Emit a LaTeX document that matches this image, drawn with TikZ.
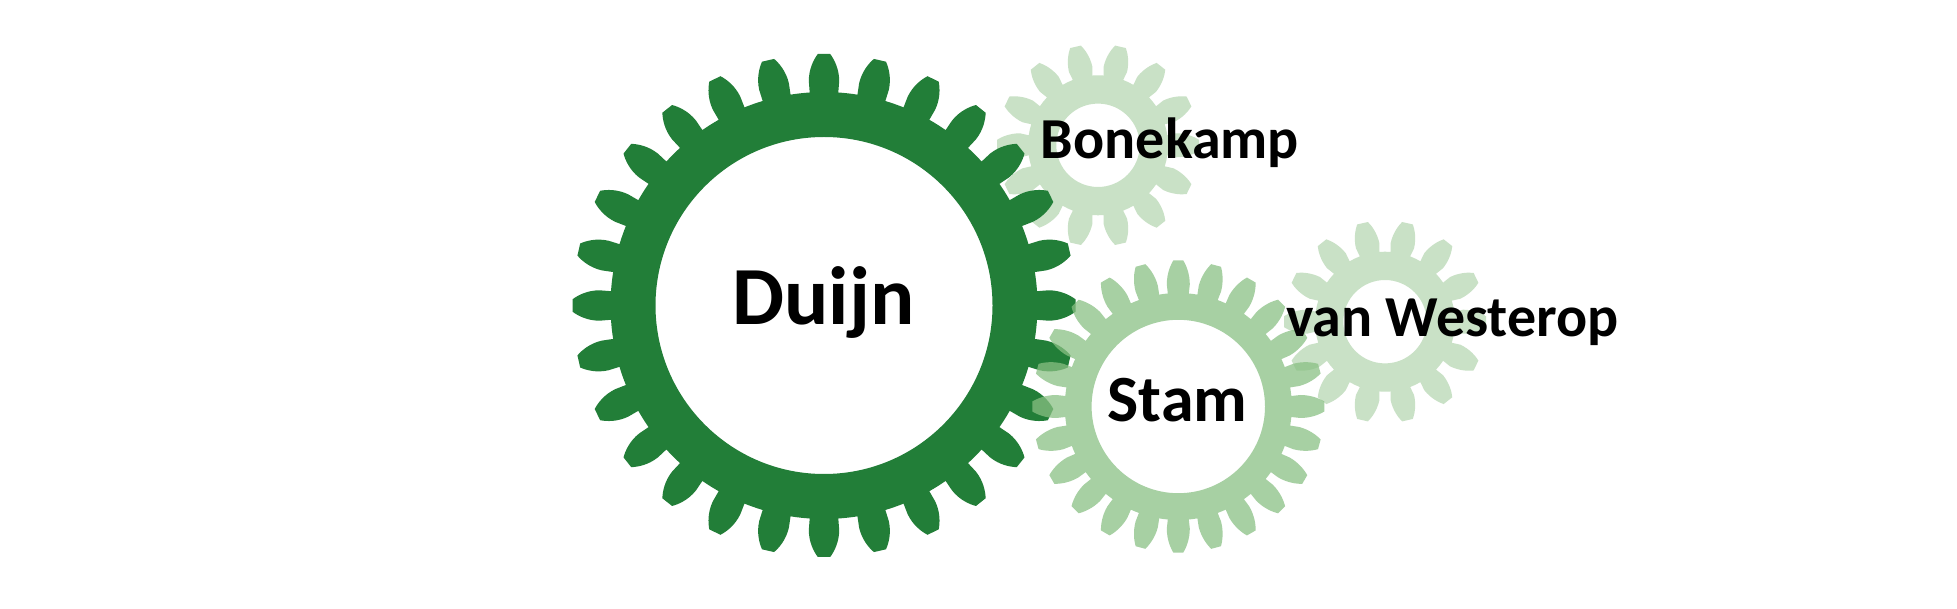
\documentclass[tikz,border=0pt]{standalone}
\usepackage{fontspec}
\setmainfont{Carlito}
\definecolor{dgreen}{RGB}{34,126,56}
\definecolor{lgreen}{RGB}{201,225,198}
\definecolor{mgreen}{RGB}{137,192,131}
% N r0 w0 r1 w1 r2 t rh
\newcommand\gearset[8]{%
  \pgfmathsetmacro\gStep{360/#1}%
  \pgfmathtruncatemacro\gLast{#1-1}%
  \pgfmathsetmacro\gB{asin(#3/#2)}%
  \pgfmathsetmacro\gX{#2*cos(\gB)}%
  \def\gR{#2}\def\gW{#3}\def\gRa{#4}\def\gWa{#5}\def\gRb{#6}\def\gT{#7}\def\gH{#8}%
  \pgfmathsetmacro\gCa{#4+0.45*(#6-#4)}%
  \pgfmathsetmacro\gCb{#6-0.2*(#6-#4)}%
  \pgfmathsetmacro\gCu{#7+0.45*(#5-#7)}%
}
\newcommand\gearpath{([rotate=0]\gX,-\gW)
  \foreach \i in {0,...,\gLast}{
    -- ([rotate={\i*\gStep}]\gRa,-\gWa)
    .. controls ([rotate={\i*\gStep}]\gCa,-\gWa) and ([rotate={\i*\gStep}]\gCb,-\gCu) .. ([rotate={\i*\gStep}]\gRb,-\gT)
    -- ([rotate={\i*\gStep}]\gRb,\gT)
    .. controls ([rotate={\i*\gStep}]\gCb,\gCu) and ([rotate={\i*\gStep}]\gCa,\gWa) .. ([rotate={\i*\gStep}]\gRa,\gWa)
    -- ([rotate={\i*\gStep}]\gX,\gW)
    arc[start angle={\i*\gStep+\gB}, end angle={(\i+1)*\gStep-\gB}, radius=\gR pt]
  } -- cycle (0,0) circle[radius=\gH pt]}
\tikzset{
  lbl/.style={inner sep=0pt, anchor=base, text=black},
  darkgear/.style={fill=dgreen, even odd rule},
  lightgear/.style={fill=lgreen, even odd rule},
  midgear/.style={fill=mgreen, fill opacity=0.74, even odd rule}
}
\begin{document}
\begin{tikzpicture}[x=1pt,y=1pt]
\useasboundingbox (0,0) rectangle (1957,608);
\fill[white] (0,0) rectangle (1957,608);
% Bonekamp gear
\gearset{14}{70}{10}{78}{12}{101}{5.5}{41.7}
\begin{scope}[shift={(1098,462.7)}]
  \fill[lightgear] \gearpath;
\end{scope}
% van Westerop gear
\begin{scope}[shift={(1385,286.3)}]
  \fill[lightgear] \gearpath;
\end{scope}
% Duijn gear
\gearset{28}{213.5}{14.3}{224.5}{15.2}{251.5}{6.2}{168.5}
\begin{scope}[shift={(824,302.5)}]
  \fill[darkgear] \gearpath;
\end{scope}
% Stam gear
\gearset{24}{113.5}{10.5}{122}{11.5}{146}{5}{86.7}
\begin{scope}[shift={(1178.3,201.5)}]
  \fill[midgear] \gearpath;
\end{scope}
% labels
\node[lbl, font=\fontsize{82.6}{90}\selectfont\bfseries] (duijn) at (823.5,283.2) {Duijn};
\node[lbl, font=\fontsize{66}{72}\selectfont\bfseries] (stam) at (1177.5,186.3) {Stam};
\node[lbl, font=\fontsize{58}{64}\selectfont\bfseries] (bonekamp) at (1170,449.7) {Bonekamp};
\node[lbl, font=\fontsize{58}{64}\selectfont\bfseries] (westerop) at (1452.5,271.3) {van Westerop};
\end{tikzpicture}
\end{document}
